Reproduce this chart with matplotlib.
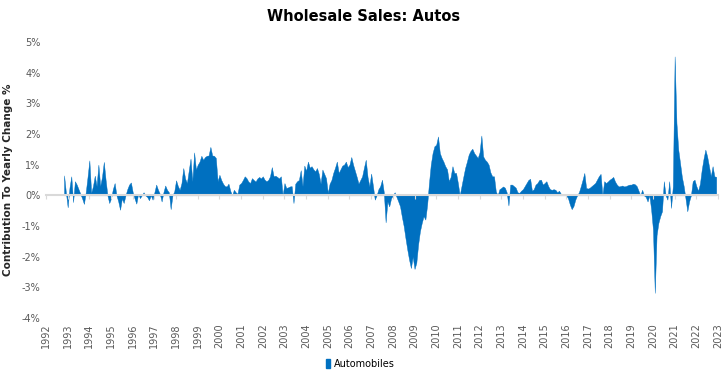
import numpy as np
import matplotlib
matplotlib.use("Agg")
import matplotlib.pyplot as plt
from matplotlib.patches import Patch

start_year = 1992
start_month = 11  # first observation: Nov 1992

v1992 = [0.65, 0.1]
v1993 = [-0.39, 0.25, 0.62, -0.22, 0.46, 0.35, 0.2, 0.05, -0.1, -0.28, 0.1, 0.6]
v1994 = [1.14, 0.08, 0.3, 0.64, 0.3, 1.0, 0.3, 0.6, 1.09, 0.5, 0.0, -0.25]
v1995 = [-0.1, 0.2, 0.4, 0.0, -0.2, -0.47, -0.1, -0.25, 0.0, 0.2, 0.35, 0.42]
v1996 = [0.1, -0.1, -0.27, 0.05, -0.09, 0.0, 0.1, 0.0, -0.05, -0.16, 0.0, -0.14]
v1997 = [0.1, 0.35, 0.18, 0.05, -0.2, 0.1, 0.32, 0.18, 0.1, -0.45, 0.0, 0.13]
v1998 = [0.49, 0.3, 0.18, 0.4, 0.89, 0.55, 0.4, 0.8, 1.2, 0.46, 1.4, 0.84]
v1999 = [1.0, 1.1, 1.29, 1.16, 1.25, 1.29, 1.3, 1.58, 1.3, 1.29, 1.22, 0.46]
v2000 = [0.67, 0.5, 0.38, 0.3, 0.29, 0.38, 0.15, 0.0, 0.18, 0.1, 0.05, 0.35]
v2001 = [0.4, 0.5, 0.62, 0.56, 0.45, 0.4, 0.56, 0.5, 0.45, 0.55, 0.6, 0.55]
v2002 = [0.62, 0.51, 0.46, 0.5, 0.62, 0.92, 0.62, 0.64, 0.6, 0.55, 0.62, 0.0]
v2003 = [0.4, 0.24, 0.26, 0.29, 0.3, -0.25, 0.38, 0.46, 0.5, 0.82, 0.3, 0.97]
v2004 = [0.8, 1.1, 0.9, 0.95, 0.85, 0.78, 0.89, 0.7, 0.38, 0.84, 0.7, 0.56]
v2005 = [0.08, 0.38, 0.5, 0.73, 0.9, 1.1, 0.73, 0.85, 0.97, 1.0, 1.1, 0.92]
v2006 = [1.0, 1.25, 1.0, 0.8, 0.6, 0.38, 0.5, 0.62, 0.9, 1.16, 0.6, 0.29]
v2007 = [0.71, 0.3, -0.14, 0.0, 0.2, 0.3, 0.51, 0.1, -0.88, -0.2, -0.36, -0.1]
v2008 = [0.0, 0.1, -0.05, -0.2, -0.36, -0.7, -1.0, -1.4, -1.77, -2.1, -2.37, -2.0]
v2009 = [-2.4, -2.2, -1.6, -1.17, -0.9, -0.68, -0.79, -0.3, 0.4, 1.0, 1.38, 1.6]
v2010 = [1.65, 1.92, 1.38, 1.22, 1.1, 0.95, 0.85, 0.46, 0.6, 0.95, 0.73, 0.73]
v2011 = [0.4, 0.0, 0.3, 0.6, 0.89, 1.1, 1.33, 1.45, 1.52, 1.38, 1.3, 1.22]
v2012 = [1.4, 1.95, 1.27, 1.16, 1.1, 1.0, 0.75, 0.62, 0.62, 0.13, 0.0, 0.2]
v2013 = [0.24, 0.29, 0.25, 0.1, -0.33, 0.35, 0.35, 0.3, 0.25, 0.1, 0.08, 0.15]
v2014 = [0.2, 0.3, 0.4, 0.5, 0.54, 0.15, 0.2, 0.35, 0.4, 0.5, 0.51, 0.35]
v2015 = [0.4, 0.46, 0.3, 0.2, 0.18, 0.2, 0.18, 0.1, 0.15, 0.05, 0.0, 0.05]
v2016 = [0.0, -0.1, -0.3, -0.45, -0.35, -0.14, 0.0, 0.1, 0.29, 0.5, 0.73, 0.24]
v2017 = [0.22, 0.25, 0.3, 0.35, 0.4, 0.51, 0.62, 0.7, 0.0, 0.46, 0.4, 0.45]
v2018 = [0.51, 0.55, 0.6, 0.45, 0.35, 0.29, 0.3, 0.32, 0.29, 0.3, 0.33, 0.35]
v2019 = [0.35, 0.38, 0.36, 0.3, 0.15, 0.0, 0.18, 0.0, -0.05, -0.2, 0.0, -0.47]
v2020 = [-1.12, -3.18, -1.3, -0.9, -0.68, -0.52, 0.46, 0.0, -0.14, 0.46, -0.41, 0.3]
v2021 = [4.53, 2.36, 1.49, 1.05, 0.6, 0.3, -0.1, -0.52, -0.2, 0.0, 0.46, 0.51]
v2022 = [0.3, 0.15, 0.38, 0.84, 1.2, 1.49, 1.27, 0.95, 0.62, 0.95, 0.62, 0.6]

series_name = "Automobiles"
year_ticks = list(range(1992, 2024))
y_ticks = [-4, -3, -2, -1, 0, 1, 2, 3, 4, 5]

values = np.array(v1992 + v1993 + v1994 + v1995 + v1996 + v1997 + v1998 + v1999
                  + v2000 + v2001 + v2002 + v2003 + v2004 + v2005 + v2006 + v2007
                  + v2008 + v2009 + v2010 + v2011 + v2012 + v2013 + v2014 + v2015
                  + v2016 + v2017 + v2018 + v2019 + v2020 + v2021 + v2022)
t = start_year + (start_month - 1) / 12 + np.arange(len(values)) / 12

blue = "#0070C0"
grey_txt = "#595959"

fig = plt.figure(figsize=(7.28, 3.79), dpi=100)
ax = fig.add_axes([46 / 728, 1 - 318 / 379, 672 / 728, 276 / 379])

ax.fill_between(t, 0, values, color=blue, linewidth=0.3, edgecolor=blue)

ax.set_xlim(1992, 2023)
ax.set_ylim(-4, 5)
ax.set_yticks(y_ticks)
ax.set_yticklabels([f"{v}%" for v in y_ticks], fontsize=7, color=grey_txt)
ax.tick_params(axis="y", length=0, pad=4)

for s in ["top", "right", "left"]:
    ax.spines[s].set_visible(False)
ax.spines["bottom"].set_position(("data", 0))
ax.spines["bottom"].set_color("#D9D9D9")
ax.spines["bottom"].set_linewidth(1.5)
ax.spines["bottom"].set_zorder(3)
ax.set_xticks(year_ticks)
ax.tick_params(axis="x", length=3, color="#D9D9D9", labelbottom=False)

sec = ax.secondary_xaxis("bottom")
sec.set_xticks(year_ticks)
sec.set_xticklabels([str(y) for y in year_ticks], rotation=90, fontsize=7, color=grey_txt)
sec.tick_params(length=0, pad=4)
sec.spines["bottom"].set_visible(False)

ax.set_ylabel("Contribution To Yearly Change %", fontsize=7.5, fontweight="bold",
              color="#262626", labelpad=6)

fig.suptitle("Wholesale Sales: Autos", x=0.5, y=0.975, fontsize=10.5,
             fontweight="bold", color="#000000")

handle = Patch(facecolor=blue, edgecolor=blue)
fig.legend([handle], [series_name], loc="center", bbox_to_anchor=(0.495, 0.04),
           frameon=False, fontsize=7, handlelength=0.5, handleheight=0.9,
           handletextpad=0.4)

fig.savefig("out.png", dpi=100)
